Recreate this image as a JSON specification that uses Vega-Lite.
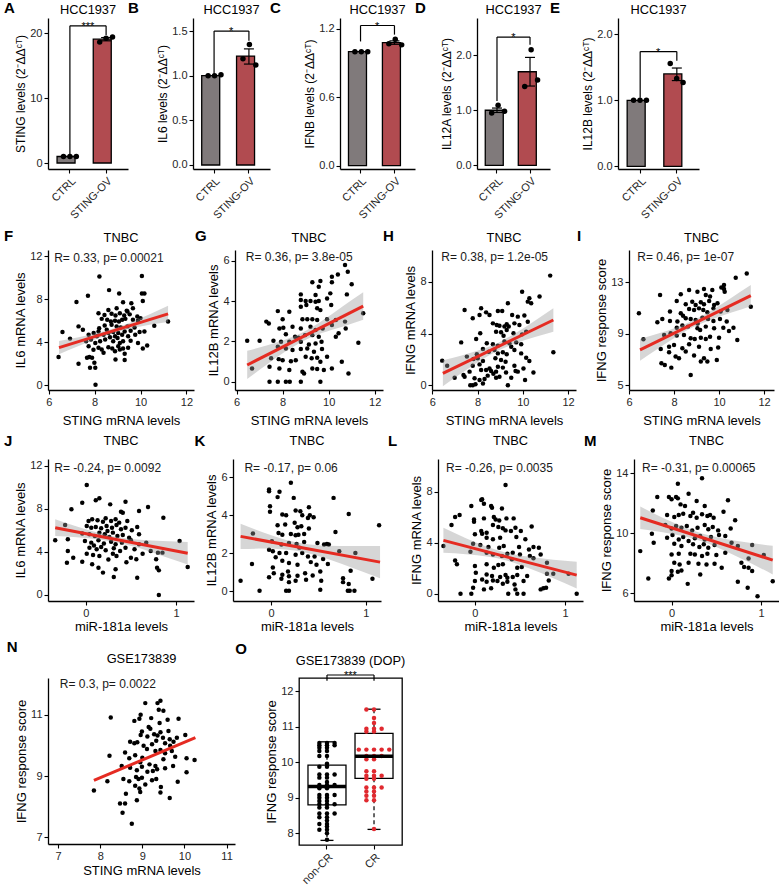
{
"$schema":"https://vega.github.io/schema/vega-lite/v6.json",
"background":"white",
"padding":{"left":3,"top":0,"right":0,"bottom":0},
"config":{
 "font":"Liberation Sans",
 "view":{"stroke":null},
 "axis":{"grid":false,"domainColor":"black","domainWidth":1.3,"tickColor":"black","tickWidth":1.1,"tickSize":4,"labelColor":"#262626","labelFontSize":11,"labelPadding":2,"titleFontSize":13,"titleFontWeight":"normal","titleColor":"black","labelFlush":false,"labelOverlap":false},
 "axisY":{"titlePadding":2},
 "axisX":{"titlePadding":7},
 "title":{"fontSize":12.8,"fontWeight":"normal","color":"black"},
 "mark":{"opacity":1}
},
"datasets":{
 "bars":[
  {"p":"A","g":"CTRL","m":1.0,"lo":null,"hi":null},
  {"p":"A","g":"STING-OV","m":19.05,"lo":18.8,"hi":19.3},
  {"p":"B","g":"CTRL","m":1.0,"lo":null,"hi":null},
  {"p":"B","g":"STING-OV","m":1.22,"lo":1.13,"hi":1.30},
  {"p":"C","g":"CTRL","m":1.0,"lo":null,"hi":null},
  {"p":"C","g":"STING-OV","m":1.08,"lo":1.065,"hi":1.095},
  {"p":"D","g":"CTRL","m":1.0,"lo":0.96,"hi":1.04},
  {"p":"D","g":"STING-OV","m":1.70,"lo":1.44,"hi":1.96},
  {"p":"E","g":"CTRL","m":1.0,"lo":null,"hi":null},
  {"p":"E","g":"STING-OV","m":1.40,"lo":1.30,"hi":1.49}
 ],
 "reps":[
  {"p":"A","g":"CTRL","r":1,"v":1.0},{"p":"A","g":"CTRL","r":2,"v":1.0},{"p":"A","g":"CTRL","r":3,"v":1.0},
  {"p":"A","g":"STING-OV","r":1,"v":18.6},{"p":"A","g":"STING-OV","r":2,"v":19.2},{"p":"A","g":"STING-OV","r":3,"v":19.4},
  {"p":"B","g":"CTRL","r":1,"v":1.0},{"p":"B","g":"CTRL","r":2,"v":1.0},{"p":"B","g":"CTRL","r":3,"v":1.01},
  {"p":"B","g":"STING-OV","r":1,"v":1.19},{"p":"B","g":"STING-OV","r":2,"v":1.35},{"p":"B","g":"STING-OV","r":3,"v":1.12},
  {"p":"C","g":"CTRL","r":1,"v":1.0},{"p":"C","g":"CTRL","r":2,"v":1.0},{"p":"C","g":"CTRL","r":3,"v":1.0},
  {"p":"C","g":"STING-OV","r":1,"v":1.07},{"p":"C","g":"STING-OV","r":2,"v":1.11},{"p":"C","g":"STING-OV","r":3,"v":1.06},
  {"p":"D","g":"CTRL","r":1,"v":0.95},{"p":"D","g":"CTRL","r":2,"v":1.09},{"p":"D","g":"CTRL","r":3,"v":0.98},
  {"p":"D","g":"STING-OV","r":1,"v":1.43},{"p":"D","g":"STING-OV","r":2,"v":2.10},{"p":"D","g":"STING-OV","r":3,"v":1.55},
  {"p":"E","g":"CTRL","r":1,"v":1.0},{"p":"E","g":"CTRL","r":2,"v":1.0},{"p":"E","g":"CTRL","r":3,"v":1.0},
  {"p":"E","g":"STING-OV","r":1,"v":1.56},{"p":"E","g":"STING-OV","r":2,"v":1.33},{"p":"E","g":"STING-OV","r":3,"v":1.27}
 ],
 "bands":[
  {"p":"F","x":6.45,"lo":2.88,"hi":4.12},{"p":"F","x":7.25,"lo":3.61,"hi":4.45},{"p":"F","x":8.05,"lo":4.28,"hi":4.84},{"p":"F","x":8.85,"lo":4.87,"hi":5.31},{"p":"F","x":9.65,"lo":5.32,"hi":5.92},{"p":"F","x":10.45,"lo":5.65,"hi":6.65},{"p":"F","x":11.2,"lo":5.9,"hi":7.4},
  {"p":"G","x":6.46,"lo":0.13,"hi":1.53},{"p":"G","x":7.3,"lo":0.84,"hi":1.80},{"p":"G","x":8.1,"lo":1.48,"hi":2.08},{"p":"G","x":8.9,"lo":2.02,"hi":2.46},{"p":"G","x":9.7,"lo":2.41,"hi":3.01},{"p":"G","x":10.6,"lo":2.73,"hi":3.73},{"p":"G","x":11.5,"lo":3.07,"hi":4.43},
  {"p":"H","x":6.47,"lo":-0.07,"hi":1.93},{"p":"H","x":7.3,"lo":0.95,"hi":2.31},{"p":"H","x":8.1,"lo":1.89,"hi":2.73},{"p":"H","x":8.9,"lo":2.68,"hi":3.28},{"p":"H","x":9.7,"lo":3.26,"hi":4.06},{"p":"H","x":10.5,"lo":3.71,"hi":4.95},{"p":"H","x":11.35,"lo":4.15,"hi":5.95},
  {"p":"I","x":6.49,"lo":6.91,"hi":8.59},{"p":"I","x":7.3,"lo":7.86,"hi":9.02},{"p":"I","x":8.1,"lo":8.77,"hi":9.49},{"p":"I","x":8.9,"lo":9.56,"hi":10.08},{"p":"I","x":9.7,"lo":10.14,"hi":10.86},{"p":"I","x":10.55,"lo":10.65,"hi":11.81},{"p":"I","x":11.41,"lo":11.15,"hi":12.79},
  {"p":"J","x":-0.34,"lo":5.48,"hi":7.04},{"p":"J","x":-0.1,"lo":5.37,"hi":6.37},{"p":"J","x":0.15,"lo":5.17,"hi":5.77},{"p":"J","x":0.35,"lo":4.88,"hi":5.40},{"p":"J","x":0.6,"lo":4.34,"hi":5.14},{"p":"J","x":0.85,"lo":3.63,"hi":5.03},{"p":"J","x":1.13,"lo":2.83,"hi":4.93},
  {"p":"K","x":-0.32,"lo":2.23,"hi":3.55},{"p":"K","x":-0.08,"lo":2.25,"hi":3.09},{"p":"K","x":0.15,"lo":2.2,"hi":2.72},{"p":"K","x":0.35,"lo":2.06,"hi":2.5},{"p":"K","x":0.6,"lo":1.7,"hi":2.4},{"p":"K","x":0.87,"lo":1.22,"hi":2.38},{"p":"K","x":1.15,"lo":0.70,"hi":2.38},
  {"p":"L","x":-0.35,"lo":3.2,"hi":5.16},{"p":"L","x":-0.1,"lo":3.1,"hi":4.34},{"p":"L","x":0.15,"lo":2.89,"hi":3.63},{"p":"L","x":0.35,"lo":2.6,"hi":3.2},{"p":"L","x":0.6,"lo":1.99,"hi":2.89},{"p":"L","x":0.87,"lo":1.22,"hi":2.66},{"p":"L","x":1.13,"lo":0.41,"hi":2.51},
  {"p":"M","x":-0.35,"lo":10.29,"hi":11.79},{"p":"M","x":-0.1,"lo":10.08,"hi":11.04},{"p":"M","x":0.15,"lo":9.79,"hi":10.39},{"p":"M","x":0.35,"lo":9.45,"hi":9.97},{"p":"M","x":0.6,"lo":8.83,"hi":9.63},{"p":"M","x":0.87,"lo":8.06,"hi":9.38},{"p":"M","x":1.13,"lo":7.27,"hi":9.17}
 ],
 "lines":[
  {"p":"F","x":6.45,"y":3.5},{"p":"F","x":11.2,"y":6.65},
  {"p":"G","x":6.46,"y":0.83},{"p":"G","x":11.5,"y":3.75},
  {"p":"H","x":6.47,"y":0.93},{"p":"H","x":11.35,"y":5.05},
  {"p":"I","x":6.49,"y":7.75},{"p":"I","x":11.41,"y":11.97},
  {"p":"J","x":-0.34,"y":6.26},{"p":"J","x":1.13,"y":3.88},
  {"p":"K","x":-0.32,"y":2.89},{"p":"K","x":1.15,"y":1.54},
  {"p":"L","x":-0.35,"y":4.18},{"p":"L","x":1.13,"y":1.46},
  {"p":"M","x":-0.35,"y":11.04},{"p":"M","x":1.13,"y":8.22},
  {"p":"N","x":7.85,"y":8.86},{"p":"N","x":10.26,"y":10.25}
 ],
 "F":[{"x":8.21,"y":10.12},{"x":10.06,"y":10.18},{"x":8.63,"y":8.86},{"x":7.71,"y":8.34},{"x":9.07,"y":8.55},{"x":10.06,"y":8.55},{"x":10.17,"y":8.55},{"x":7.21,"y":7.75},{"x":9.24,"y":7.72},{"x":9.6,"y":7.63},{"x":10.1,"y":7.85},{"x":8.6,"y":7.0},{"x":8.96,"y":7.17},{"x":9.43,"y":6.86},{"x":9.67,"y":7.17},{"x":8.17,"y":6.7},{"x":8.43,"y":6.55},{"x":8.74,"y":6.65},{"x":8.91,"y":6.5},{"x":9.1,"y":6.7},{"x":9.29,"y":6.5},{"x":9.53,"y":6.6},{"x":9.86,"y":6.4},{"x":10.0,"y":6.25},{"x":8.31,"y":6.18},{"x":8.89,"y":6.0},{"x":9.06,"y":5.94},{"x":9.2,"y":6.1},{"x":9.34,"y":6.18},{"x":9.67,"y":6.1},{"x":9.89,"y":6.0},{"x":11.2,"y":5.94},{"x":7.3,"y":5.48},{"x":7.49,"y":5.17},{"x":8.74,"y":5.63},{"x":8.96,"y":5.48},{"x":9.14,"y":5.38},{"x":9.43,"y":5.48},{"x":9.74,"y":5.38},{"x":10.6,"y":5.54},{"x":6.6,"y":4.95},{"x":8.17,"y":5.0},{"x":8.53,"y":5.17},{"x":8.81,"y":4.95},{"x":9.03,"y":4.86},{"x":9.31,"y":5.0},{"x":9.57,"y":5.08},{"x":9.96,"y":4.95},{"x":10.17,"y":5.0},{"x":7.74,"y":4.7},{"x":7.96,"y":4.86},{"x":8.1,"y":4.55},{"x":8.39,"y":4.7},{"x":8.67,"y":4.46},{"x":8.89,"y":4.55},{"x":9.2,"y":4.7},{"x":9.46,"y":4.55},{"x":9.77,"y":4.7},{"x":6.93,"y":4.34},{"x":7.63,"y":4.09},{"x":7.84,"y":4.25},{"x":8.03,"y":3.94},{"x":8.24,"y":4.09},{"x":8.46,"y":4.25},{"x":8.81,"y":4.09},{"x":9.1,"y":3.94},{"x":9.24,"y":4.09},{"x":9.57,"y":4.15},{"x":9.89,"y":3.94},{"x":7.74,"y":3.63},{"x":8.17,"y":3.48},{"x":8.6,"y":3.54},{"x":8.77,"y":3.42},{"x":9.03,"y":3.63},{"x":9.1,"y":3.32},{"x":9.24,"y":3.42},{"x":10.29,"y":3.69},{"x":10.1,"y":3.42},{"x":8.31,"y":3.32},{"x":8.39,"y":3.02},{"x":8.89,"y":3.17},{"x":9.31,"y":2.92},{"x":6.43,"y":2.62},{"x":7.67,"y":2.55},{"x":7.77,"y":2.62},{"x":7.89,"y":2.55},{"x":8.91,"y":2.4},{"x":9.31,"y":2.34},{"x":7.3,"y":2.0},{"x":7.99,"y":2.09},{"x":7.8,"y":1.63},{"x":8.03,"y":1.63},{"x":8.04,"y":0.03},{"x":8.71,"y":5.94},{"x":8.44,"y":5.57},{"x":9.46,"y":3.48},{"x":9.0,"y":4.4},{"x":8.6,"y":4.86},{"x":7.95,"y":3.3},{"x":8.55,"y":6.1},{"x":9.4,"y":6.95},{"x":8.2,"y":5.3}],
 "G":[{"x":10.71,"y":5.79},{"x":10.83,"y":5.45},{"x":10.4,"y":5.32},{"x":10.14,"y":5.2},{"x":9.64,"y":4.99},{"x":9.29,"y":4.93},{"x":11.0,"y":4.83},{"x":10.14,"y":4.93},{"x":9.57,"y":4.71},{"x":8.79,"y":4.33},{"x":9.43,"y":4.3},{"x":10.07,"y":4.38},{"x":10.79,"y":4.33},{"x":8.79,"y":4.05},{"x":9.0,"y":4.0},{"x":9.21,"y":4.0},{"x":9.43,"y":3.97},{"x":9.57,"y":4.0},{"x":9.93,"y":4.13},{"x":7.79,"y":3.5},{"x":8.79,"y":3.72},{"x":9.03,"y":3.8},{"x":9.5,"y":3.64},{"x":9.64,"y":3.55},{"x":10.11,"y":3.8},{"x":11.5,"y":3.39},{"x":7.29,"y":2.98},{"x":7.4,"y":2.89},{"x":8.0,"y":3.1},{"x":8.29,"y":3.47},{"x":8.86,"y":3.1},{"x":9.07,"y":3.1},{"x":9.29,"y":3.1},{"x":9.5,"y":3.06},{"x":9.93,"y":3.1},{"x":10.31,"y":3.06},{"x":10.71,"y":2.98},{"x":7.86,"y":2.64},{"x":8.03,"y":2.68},{"x":8.43,"y":2.73},{"x":8.79,"y":2.64},{"x":9.21,"y":2.73},{"x":9.43,"y":2.56},{"x":9.74,"y":2.64},{"x":10.14,"y":2.81},{"x":10.74,"y":2.64},{"x":8.14,"y":2.35},{"x":8.54,"y":2.23},{"x":8.69,"y":2.18},{"x":8.97,"y":2.31},{"x":9.29,"y":2.31},{"x":9.57,"y":2.23},{"x":10.43,"y":2.4},{"x":10.31,"y":2.23},{"x":6.46,"y":2.03},{"x":7.0,"y":2.03},{"x":7.6,"y":2.03},{"x":7.93,"y":1.98},{"x":8.29,"y":1.98},{"x":8.79,"y":1.98},{"x":9.14,"y":1.85},{"x":9.43,"y":1.9},{"x":9.69,"y":1.98},{"x":7.79,"y":1.74},{"x":8.14,"y":1.65},{"x":8.43,"y":1.57},{"x":8.79,"y":1.62},{"x":9.07,"y":1.65},{"x":9.36,"y":1.49},{"x":9.71,"y":1.62},{"x":11.29,"y":1.93},{"x":7.5,"y":1.16},{"x":7.83,"y":1.12},{"x":8.0,"y":1.07},{"x":8.36,"y":1.02},{"x":8.57,"y":1.07},{"x":9.0,"y":1.24},{"x":9.26,"y":1.16},{"x":9.5,"y":1.19},{"x":9.93,"y":1.24},{"x":9.64,"y":0.99},{"x":10.57,"y":0.99},{"x":6.67,"y":0.66},{"x":7.43,"y":0.74},{"x":7.86,"y":0.66},{"x":8.29,"y":0.58},{"x":8.86,"y":0.5},{"x":8.93,"y":0.41},{"x":9.29,"y":0.66},{"x":9.5,"y":0.63},{"x":9.79,"y":0.58},{"x":10.14,"y":0.66},{"x":10.86,"y":0.41},{"x":7.43,"y":0},{"x":7.79,"y":0},{"x":8.14,"y":0},{"x":8.31,"y":0},{"x":8.79,"y":0},{"x":9.64,"y":0}],
 "H":[{"x":6.44,"y":1.91},{"x":6.66,"y":1.52},{"x":6.99,"y":0.59},{"x":7.28,"y":3.32},{"x":7.38,"y":0.8},{"x":7.43,"y":5.82},{"x":11.21,"y":8.48},{"x":9.97,"y":7.24},{"x":10.74,"y":6.86},{"x":10.29,"y":6.73},{"x":10.22,"y":6.47},{"x":10.37,"y":6.34},{"x":9.34,"y":6.34},{"x":8.16,"y":5.95},{"x":8.38,"y":5.64},{"x":8.9,"y":5.75},{"x":9.09,"y":5.75},{"x":7.79,"y":5.18},{"x":8.09,"y":5.44},{"x":8.53,"y":5.44},{"x":9.53,"y":5.44},{"x":9.78,"y":5.31},{"x":10.07,"y":5.39},{"x":8.68,"y":4.79},{"x":8.85,"y":4.66},{"x":8.97,"y":4.61},{"x":9.19,"y":4.54},{"x":9.29,"y":4.72},{"x":9.38,"y":4.54},{"x":9.63,"y":4.79},{"x":9.85,"y":4.66},{"x":10.22,"y":4.92},{"x":8.12,"y":4.02},{"x":8.82,"y":4.15},{"x":9.04,"y":4.1},{"x":9.29,"y":4.28},{"x":9.59,"y":4.02},{"x":9.97,"y":3.94},{"x":10.15,"y":4.15},{"x":9.15,"y":3.84},{"x":7.94,"y":3.58},{"x":8.41,"y":3.25},{"x":8.68,"y":3.17},{"x":8.9,"y":3.07},{"x":9.19,"y":3.38},{"x":9.41,"y":3.25},{"x":9.71,"y":3.32},{"x":9.93,"y":3.17},{"x":9.49,"y":2.99},{"x":8.24,"y":2.81},{"x":8.5,"y":2.6},{"x":8.75,"y":2.73},{"x":8.9,"y":2.47},{"x":9.12,"y":2.55},{"x":9.29,"y":2.4},{"x":9.63,"y":2.73},{"x":9.93,"y":2.47},{"x":11.35,"y":2.55},{"x":7.97,"y":2.4},{"x":7.53,"y":2.22},{"x":7.82,"y":2.04},{"x":8.01,"y":2.09},{"x":8.24,"y":1.88},{"x":8.79,"y":2.09},{"x":9.04,"y":1.96},{"x":9.24,"y":1.83},{"x":10.15,"y":2.14},{"x":10.29,"y":1.88},{"x":7.79,"y":1.52},{"x":8.09,"y":1.62},{"x":8.53,"y":1.31},{"x":8.9,"y":1.44},{"x":9.12,"y":1.37},{"x":9.63,"y":1.52},{"x":10.03,"y":1.31},{"x":7.65,"y":1.06},{"x":8.16,"y":1.19},{"x":8.38,"y":1.19},{"x":8.6,"y":1.11},{"x":8.82,"y":1.06},{"x":9.26,"y":1.0},{"x":9.68,"y":1.11},{"x":9.78,"y":1.06},{"x":10.47,"y":1.0},{"x":7.43,"y":0.67},{"x":7.87,"y":0.54},{"x":8.09,"y":0.41},{"x":8.31,"y":0.49},{"x":8.82,"y":0.59},{"x":8.97,"y":0.67},{"x":9.49,"y":0.59},{"x":10.1,"y":0.41},{"x":7.68,"y":0},{"x":7.79,"y":0},{"x":7.91,"y":0.08},{"x":8.24,"y":0.15},{"x":9.34,"y":0},{"x":8.7,"y":0.9},{"x":8.45,"y":0.75}],
 "I":[{"x":6.44,"y":10.6},{"x":6.64,"y":8.58},{"x":7.38,"y":12.02},{"x":7.26,"y":9.9},{"x":7.41,"y":7.82},{"x":7.44,"y":6.71},{"x":7.59,"y":6.58},{"x":11.23,"y":13.7},{"x":10.74,"y":13.37},{"x":10.22,"y":12.8},{"x":10.22,"y":12.49},{"x":10.25,"y":12.28},{"x":9.7,"y":12.41},{"x":9.33,"y":12.49},{"x":9.04,"y":12.28},{"x":8.67,"y":12.41},{"x":8.3,"y":12.07},{"x":9.41,"y":12.02},{"x":8.12,"y":11.55},{"x":8.52,"y":11.3},{"x":8.81,"y":11.5},{"x":8.96,"y":11.24},{"x":9.19,"y":11.45},{"x":9.33,"y":11.3},{"x":9.56,"y":11.55},{"x":9.78,"y":11.24},{"x":9.93,"y":11.37},{"x":11.41,"y":11.11},{"x":7.82,"y":10.73},{"x":8.3,"y":10.6},{"x":8.67,"y":10.93},{"x":8.89,"y":10.86},{"x":9.11,"y":10.98},{"x":9.3,"y":10.86},{"x":9.48,"y":10.67},{"x":9.75,"y":10.98},{"x":10.07,"y":10.73},{"x":10.37,"y":10.86},{"x":7.48,"y":10.16},{"x":7.82,"y":10.0},{"x":8.15,"y":9.95},{"x":8.52,"y":10.21},{"x":8.74,"y":10.16},{"x":8.96,"y":10.08},{"x":9.26,"y":10.26},{"x":9.51,"y":10.16},{"x":9.75,"y":10.0},{"x":10.04,"y":10.16},{"x":10.34,"y":9.95},{"x":8.12,"y":9.48},{"x":8.37,"y":9.64},{"x":8.62,"y":9.56},{"x":9.04,"y":9.43},{"x":9.16,"y":9.3},{"x":9.41,"y":9.56},{"x":9.78,"y":9.43},{"x":10.19,"y":9.48},{"x":10.44,"y":9.22},{"x":10.64,"y":9.48},{"x":7.56,"y":8.91},{"x":7.85,"y":9.04},{"x":8.12,"y":8.86},{"x":8.44,"y":8.91},{"x":8.74,"y":8.65},{"x":8.92,"y":8.6},{"x":9.19,"y":8.7},{"x":9.41,"y":8.6},{"x":9.6,"y":8.78},{"x":10.0,"y":8.7},{"x":10.81,"y":8.52},{"x":7.78,"y":8.0},{"x":8.0,"y":8.13},{"x":8.37,"y":7.88},{"x":8.67,"y":8.19},{"x":9.11,"y":8.0},{"x":9.63,"y":7.82},{"x":9.96,"y":7.93},{"x":7.78,"y":7.56},{"x":8.07,"y":7.23},{"x":8.22,"y":7.1},{"x":8.52,"y":7.62},{"x":8.89,"y":7.31},{"x":9.33,"y":7.1},{"x":9.9,"y":6.97},{"x":7.88,"y":6.37},{"x":9.19,"y":6.84},{"x":9.48,"y":6.84},{"x":8.74,"y":5.8},{"x":9.6,"y":11.9},{"x":10.1,"y":12.6},{"x":9.05,"y":9.8},{"x":8.4,"y":10.4}],
 "J":[{"x":-0.34,"y":5.09},{"x":-0.23,"y":6.51},{"x":-0.2,"y":5.18},{"x":-0.2,"y":4.09},{"x":-0.21,"y":3.0},{"x":-0.16,"y":7.97},{"x":-0.14,"y":3.47},{"x":-0.04,"y":8.59},{"x":0.01,"y":10.23},{"x":0.11,"y":8.81},{"x":0.15,"y":8.99},{"x":0.27,"y":8.43},{"x":0.44,"y":8.68},{"x":0.39,"y":7.75},{"x":0.41,"y":7.66},{"x":0.59,"y":7.81},{"x":0.69,"y":8.19},{"x":0.86,"y":7.19},{"x":0.03,"y":6.88},{"x":0.07,"y":7.04},{"x":0.13,"y":6.95},{"x":0.19,"y":6.82},{"x":0.22,"y":7.13},{"x":0.28,"y":6.88},{"x":0.33,"y":7.04},{"x":0.37,"y":6.73},{"x":0.46,"y":6.88},{"x":0.01,"y":6.42},{"x":0.06,"y":6.26},{"x":0.11,"y":6.33},{"x":0.17,"y":6.2},{"x":0.23,"y":6.42},{"x":0.29,"y":6.26},{"x":0.34,"y":6.51},{"x":0.39,"y":6.11},{"x":0.44,"y":6.26},{"x":0.51,"y":6.02},{"x":0.57,"y":6.33},{"x":-0.04,"y":5.71},{"x":0.04,"y":5.64},{"x":0.1,"y":5.49},{"x":0.15,"y":5.8},{"x":0.21,"y":5.64},{"x":0.26,"y":5.4},{"x":0.3,"y":5.8},{"x":0.35,"y":5.49},{"x":0.41,"y":5.58},{"x":0.48,"y":5.33},{"x":0.59,"y":5.64},{"x":-0.01,"y":5.02},{"x":0.06,"y":4.87},{"x":0.14,"y":5.09},{"x":0.2,"y":4.78},{"x":0.28,"y":4.96},{"x":0.33,"y":4.71},{"x":0.4,"y":4.87},{"x":0.5,"y":5.09},{"x":0.59,"y":4.71},{"x":0.67,"y":4.87},{"x":1.04,"y":5.02},{"x":0.04,"y":4.4},{"x":0.12,"y":4.25},{"x":0.17,"y":4.47},{"x":0.22,"y":4.16},{"x":0.31,"y":4.34},{"x":0.38,"y":4.09},{"x":0.44,"y":4.4},{"x":0.54,"y":4.25},{"x":0.72,"y":4.09},{"x":0.01,"y":3.84},{"x":0.08,"y":3.72},{"x":0.15,"y":3.63},{"x":0.3,"y":3.84},{"x":0.34,"y":3.63},{"x":0.5,"y":3.47},{"x":0.56,"y":3.32},{"x":0.63,"y":3.84},{"x":0.8,"y":3.94},{"x":0.85,"y":3.94},{"x":0.78,"y":3.32},{"x":-0.04,"y":3.1},{"x":0.07,"y":2.85},{"x":0.79,"y":2.54},{"x":1.13,"y":2.6},{"x":0.81,"y":2.29},{"x":0.14,"y":2.54},{"x":0.19,"y":2.08},{"x":0.33,"y":2.39},{"x":0.57,"y":1.61},{"x":0.31,"y":1.67},{"x":0.81,"y":0},{"x":0.25,"y":3.3},{"x":0.45,"y":3.05},{"x":0.09,"y":4.6},{"x":0.24,"y":5.95}],
 "K":[{"x":-0.32,"y":0.56},{"x":-0.2,"y":1.44},{"x":-0.19,"y":3.04},{"x":-0.12,"y":0.04},{"x":0.21,"y":5.7},{"x":-0.02,"y":5.35},{"x":-0.02,"y":5.26},{"x":0.09,"y":5.23},{"x":0.07,"y":4.95},{"x":0.4,"y":4.42},{"x":0.24,"y":4.91},{"x":0.66,"y":4.91},{"x":-0.01,"y":4.47},{"x":-0.01,"y":4.18},{"x":0.82,"y":4.07},{"x":1.14,"y":3.47},{"x":0.12,"y":4.04},{"x":0.16,"y":4.0},{"x":0.26,"y":4.25},{"x":0.31,"y":4.21},{"x":0.33,"y":4.0},{"x":0.39,"y":3.86},{"x":0.41,"y":4.0},{"x":0.45,"y":3.89},{"x":0.07,"y":3.47},{"x":0.15,"y":3.51},{"x":0.25,"y":3.6},{"x":0.28,"y":3.37},{"x":0.32,"y":3.42},{"x":0.4,"y":3.3},{"x":0.08,"y":3.07},{"x":0.12,"y":2.98},{"x":0.21,"y":3.02},{"x":0.26,"y":2.95},{"x":0.29,"y":2.98},{"x":0.35,"y":3.02},{"x":0.68,"y":3.12},{"x":0.01,"y":2.63},{"x":0.11,"y":2.46},{"x":0.19,"y":2.54},{"x":0.27,"y":2.49},{"x":0.35,"y":2.6},{"x":0.49,"y":2.54},{"x":0.56,"y":2.46},{"x":0.59,"y":2.49},{"x":0.61,"y":2.46},{"x":0.72,"y":2.11},{"x":-0.02,"y":2.19},{"x":0.02,"y":2.11},{"x":0.09,"y":2.02},{"x":0.16,"y":2.02},{"x":0.26,"y":1.93},{"x":0.33,"y":2.02},{"x":0.39,"y":1.84},{"x":0.46,"y":1.84},{"x":0.89,"y":2.02},{"x":0.12,"y":1.61},{"x":0.19,"y":1.49},{"x":0.28,"y":1.4},{"x":0.42,"y":1.54},{"x":0.48,"y":1.4},{"x":0.6,"y":1.44},{"x":0.84,"y":1.09},{"x":0.02,"y":1.26},{"x":0.03,"y":0.96},{"x":0.12,"y":0.88},{"x":0.18,"y":1.05},{"x":0.36,"y":0.96},{"x":0.44,"y":0.84},{"x":0.52,"y":1.05},{"x":0.11,"y":0.67},{"x":0.19,"y":0.49},{"x":0.26,"y":0.56},{"x":0.37,"y":0.61},{"x":0.53,"y":0.56},{"x":0.76,"y":0.49},{"x":0.82,"y":0.39},{"x":1.07,"y":0.67},{"x":0.16,"y":0.04},{"x":0.19,"y":0.04},{"x":0.52,"y":0.09},{"x":0.81,"y":0.04},{"x":0.83,"y":0.04},{"x":0.88,"y":0.04},{"x":-0.02,"y":0.75},{"x":0.19,"y":0.8},{"x":0.28,"y":0.82},{"x":0.76,"y":0.7},{"x":0.55,"y":1.7},{"x":0.3,"y":2.3},{"x":0.05,"y":1.8}],
 "L":[{"x":-0.35,"y":3.73},{"x":-0.26,"y":5.38},{"x":-0.22,"y":6.0},{"x":-0.17,"y":6.16},{"x":-0.22,"y":2.61},{"x":-0.2,"y":2.3},{"x":-0.16,"y":0},{"x":-0.04,"y":6.87},{"x":0.07,"y":7.34},{"x":0.34,"y":8.51},{"x":0.08,"y":7.39},{"x":0.1,"y":7.05},{"x":0.18,"y":6.87},{"x":0.19,"y":6.74},{"x":0.3,"y":6.68},{"x":-0.01,"y":5.82},{"x":0.1,"y":5.9},{"x":0.21,"y":6.0},{"x":0.23,"y":5.82},{"x":0.27,"y":5.74},{"x":0.35,"y":5.9},{"x":0.43,"y":5.9},{"x":-0.01,"y":5.64},{"x":0.2,"y":5.38},{"x":0.26,"y":5.22},{"x":0.31,"y":5.12},{"x":0.34,"y":4.96},{"x":0.4,"y":4.91},{"x":0.45,"y":5.17},{"x":0.51,"y":4.91},{"x":0.63,"y":5.27},{"x":0.07,"y":4.91},{"x":0.08,"y":4.7},{"x":0.13,"y":4.78},{"x":0.0,"y":4.65},{"x":0.13,"y":4.39},{"x":0.2,"y":4.26},{"x":0.28,"y":4.39},{"x":0.46,"y":4.44},{"x":0.56,"y":4.26},{"x":-0.02,"y":3.92},{"x":0.06,"y":3.81},{"x":0.15,"y":3.66},{"x":0.27,"y":3.6},{"x":0.32,"y":3.73},{"x":0.49,"y":3.66},{"x":0.65,"y":3.66},{"x":0.71,"y":3.6},{"x":0.6,"y":3.47},{"x":-0.05,"y":3.29},{"x":0.13,"y":3.21},{"x":0.2,"y":3.08},{"x":0.3,"y":2.95},{"x":0.36,"y":3.13},{"x":0.42,"y":3.21},{"x":0.5,"y":3.08},{"x":0.61,"y":2.95},{"x":0.65,"y":2.77},{"x":0.41,"y":2.69},{"x":0.73,"y":3.08},{"x":0.0,"y":2.17},{"x":0.13,"y":2.3},{"x":0.21,"y":2.04},{"x":0.26,"y":2.25},{"x":0.31,"y":2.3},{"x":0.47,"y":2.04},{"x":0.52,"y":2.09},{"x":0.8,"y":2.43},{"x":0.8,"y":1.57},{"x":0.87,"y":1.57},{"x":1.04,"y":1.57},{"x":0.01,"y":1.64},{"x":0.13,"y":1.51},{"x":0.19,"y":1.38},{"x":0.28,"y":1.31},{"x":0.34,"y":1.46},{"x":0.36,"y":1.25},{"x":0.42,"y":1.31},{"x":0.47,"y":1.46},{"x":0.58,"y":1.38},{"x":0.82,"y":1.04},{"x":0.0,"y":0.99},{"x":0.08,"y":1.12},{"x":0.13,"y":0.94},{"x":0.2,"y":1.04},{"x":0.25,"y":0.99},{"x":0.31,"y":0.78},{"x":0.36,"y":0.94},{"x":0.44,"y":0.73},{"x":0.54,"y":0.99},{"x":-0.02,"y":0.47},{"x":0.1,"y":0.34},{"x":0.18,"y":0.42},{"x":0.45,"y":0.34},{"x":0.73,"y":0.34},{"x":0.76,"y":0.42},{"x":0.79,"y":0.47},{"x":-0.04,"y":0},{"x":0.37,"y":0},{"x":0.47,"y":0},{"x":0.54,"y":0},{"x":1.13,"y":0}],
 "M":[{"x":-0.35,"y":8.82},{"x":-0.26,"y":7.0},{"x":-0.22,"y":9.98},{"x":-0.2,"y":9.38},{"x":-0.21,"y":11.53},{"x":-0.16,"y":12.42},{"x":-0.03,"y":7.0},{"x":0.0,"y":7.22},{"x":0.05,"y":12.42},{"x":0.07,"y":13.31},{"x":0.34,"y":13.67},{"x":-0.03,"y":12.42},{"x":0.0,"y":12.27},{"x":0.07,"y":12.33},{"x":0.19,"y":12.64},{"x":0.1,"y":11.93},{"x":0.15,"y":11.82},{"x":0.28,"y":12.16},{"x":0.37,"y":11.82},{"x":0.63,"y":12.2},{"x":-0.05,"y":11.22},{"x":0.03,"y":11.09},{"x":0.08,"y":11.22},{"x":0.13,"y":11.31},{"x":0.21,"y":11.16},{"x":0.24,"y":11.38},{"x":0.28,"y":11.04},{"x":0.34,"y":11.27},{"x":0.4,"y":11.16},{"x":0.43,"y":11.22},{"x":0.47,"y":11.04},{"x":0.58,"y":11.44},{"x":0.71,"y":10.87},{"x":-0.07,"y":10.56},{"x":0.0,"y":10.33},{"x":0.05,"y":10.49},{"x":0.11,"y":10.38},{"x":0.17,"y":10.49},{"x":0.23,"y":10.2},{"x":0.29,"y":10.38},{"x":0.37,"y":10.56},{"x":0.41,"y":10.27},{"x":0.46,"y":10.42},{"x":0.52,"y":10.2},{"x":0.66,"y":10.33},{"x":-0.05,"y":9.71},{"x":0.01,"y":9.89},{"x":0.08,"y":9.6},{"x":0.13,"y":9.76},{"x":0.19,"y":9.49},{"x":0.26,"y":9.67},{"x":0.32,"y":9.82},{"x":0.37,"y":9.6},{"x":0.44,"y":9.76},{"x":0.53,"y":9.89},{"x":0.6,"y":9.82},{"x":0.03,"y":9.31},{"x":0.11,"y":9.16},{"x":0.24,"y":9.27},{"x":0.31,"y":9.09},{"x":0.36,"y":9.27},{"x":0.41,"y":9.04},{"x":0.48,"y":9.22},{"x":0.67,"y":9.38},{"x":0.74,"y":9.16},{"x":0.9,"y":9.22},{"x":0.0,"y":8.6},{"x":0.08,"y":8.64},{"x":0.21,"y":8.64},{"x":0.26,"y":8.6},{"x":0.34,"y":8.49},{"x":0.4,"y":8.64},{"x":0.5,"y":8.56},{"x":0.6,"y":8.71},{"x":1.03,"y":8.56},{"x":0.03,"y":8.04},{"x":0.09,"y":7.93},{"x":0.19,"y":8.04},{"x":0.3,"y":7.98},{"x":0.39,"y":7.93},{"x":0.48,"y":7.98},{"x":0.78,"y":8.04},{"x":0.86,"y":8.33},{"x":0.0,"y":7.49},{"x":0.07,"y":7.44},{"x":0.11,"y":7.53},{"x":0.32,"y":7.27},{"x":0.56,"y":7.71},{"x":0.81,"y":7.76},{"x":0.86,"y":7.71},{"x":0.9,"y":7.49},{"x":0.18,"y":6.64},{"x":0.74,"y":6.78},{"x":1.13,"y":6.82},{"x":0.85,"y":6.38},{"x":0.96,"y":5.82}],
 "N":[{"x":9.07,"y":11.38},{"x":9.43,"y":11.46},{"x":9.36,"y":11.38},{"x":9.39,"y":11.16},{"x":9.5,"y":11.13},{"x":8.25,"y":10.91},{"x":8.96,"y":11.0},{"x":8.93,"y":10.87},{"x":9.21,"y":10.89},{"x":9.41,"y":10.73},{"x":9.6,"y":10.84},{"x":9.86,"y":10.87},{"x":8.81,"y":10.8},{"x":8.99,"y":10.45},{"x":8.96,"y":10.34},{"x":9.19,"y":10.54},{"x":9.28,"y":10.36},{"x":9.43,"y":10.43},{"x":9.62,"y":10.47},{"x":10.02,"y":10.34},{"x":9.12,"y":10.29},{"x":9.36,"y":10.32},{"x":9.49,"y":10.25},{"x":9.82,"y":10.25},{"x":8.71,"y":10.12},{"x":8.81,"y":10.07},{"x":8.88,"y":10.1},{"x":9.03,"y":9.99},{"x":9.23,"y":10.04},{"x":9.33,"y":10.15},{"x":9.54,"y":10.07},{"x":9.66,"y":9.99},{"x":9.74,"y":10.12},{"x":8.22,"y":9.66},{"x":8.59,"y":9.77},{"x":8.83,"y":9.68},{"x":9.11,"y":9.88},{"x":9.31,"y":9.82},{"x":9.43,"y":9.85},{"x":9.54,"y":9.74},{"x":9.7,"y":9.82},{"x":9.78,"y":9.63},{"x":8.69,"y":9.58},{"x":10.05,"y":9.58},{"x":10.24,"y":9.52},{"x":8.51,"y":9.33},{"x":8.71,"y":9.27},{"x":8.87,"y":9.19},{"x":8.99,"y":9.3},{"x":9.17,"y":9.38},{"x":9.31,"y":9.33},{"x":9.35,"y":9.22},{"x":9.54,"y":9.25},{"x":9.73,"y":9.33},{"x":9.12,"y":9.14},{"x":9.25,"y":9.16},{"x":8.55,"y":8.9},{"x":8.85,"y":8.97},{"x":8.91,"y":8.9},{"x":8.99,"y":8.94},{"x":9.23,"y":8.86},{"x":9.33,"y":8.9},{"x":10.05,"y":9.12},{"x":8.17,"y":8.83},{"x":8.69,"y":8.83},{"x":8.83,"y":8.68},{"x":8.93,"y":8.59},{"x":9.07,"y":8.72},{"x":8.95,"y":8.48},{"x":9.44,"y":8.64},{"x":9.84,"y":8.81},{"x":9.43,"y":8.46},{"x":9.65,"y":8.28},{"x":8.87,"y":8.21},{"x":8.61,"y":8.42},{"x":8.47,"y":8.1},{"x":8.59,"y":8.1},{"x":7.85,"y":8.53},{"x":8.53,"y":7.8},{"x":8.75,"y":7.44},{"x":9.15,"y":10.6},{"x":9.5,"y":9.55},{"x":9.0,"y":9.6},{"x":9.65,"y":10.2},{"x":8.95,"y":9.45}],
 "obox":[{"g":"non-CR","lo":7.8,"q1":8.8,"med":9.32,"q3":9.92,"hi":10.58},{"g":"CR","lo":8.11,"q1":9.55,"med":10.17,"q3":10.82,"hi":11.5}],
 "odots":[
  {"g":"non-CR","v":10.55},{"g":"non-CR","v":10.55},{"g":"non-CR","v":10.55},{"g":"non-CR","v":10.48},{"g":"non-CR","v":10.48},{"g":"non-CR","v":10.48},{"g":"non-CR","v":10.41},{"g":"non-CR","v":10.41},{"g":"non-CR","v":10.32},{"g":"non-CR","v":10.32},{"g":"non-CR","v":10.18},{"g":"non-CR","v":10.18},{"g":"non-CR","v":9.96},{"g":"non-CR","v":9.88},{"g":"non-CR","v":9.88},{"g":"non-CR","v":9.66},{"g":"non-CR","v":9.66},{"g":"non-CR","v":9.66},{"g":"non-CR","v":9.57},{"g":"non-CR","v":9.57},{"g":"non-CR","v":9.45},{"g":"non-CR","v":9.36},{"g":"non-CR","v":9.36},{"g":"non-CR","v":9.36},{"g":"non-CR","v":9.27},{"g":"non-CR","v":9.27},{"g":"non-CR","v":9.08},{"g":"non-CR","v":9.08},{"g":"non-CR","v":9.08},{"g":"non-CR","v":9.0},{"g":"non-CR","v":9.0},{"g":"non-CR","v":8.91},{"g":"non-CR","v":8.91},{"g":"non-CR","v":8.82},{"g":"non-CR","v":8.82},{"g":"non-CR","v":8.82},{"g":"non-CR","v":8.73},{"g":"non-CR","v":8.73},{"g":"non-CR","v":8.56},{"g":"non-CR","v":8.56},{"g":"non-CR","v":8.56},{"g":"non-CR","v":8.45},{"g":"non-CR","v":8.45},{"g":"non-CR","v":8.36},{"g":"non-CR","v":8.26},{"g":"non-CR","v":8.26},{"g":"non-CR","v":8.19},{"g":"non-CR","v":8.1},{"g":"non-CR","v":8.1},{"g":"non-CR","v":8.0},{"g":"non-CR","v":7.82},
  {"g":"CR","v":11.49},{"g":"CR","v":11.49},{"g":"CR","v":11.25},{"g":"CR","v":11.11},{"g":"CR","v":10.95},{"g":"CR","v":10.95},{"g":"CR","v":10.95},{"g":"CR","v":10.87},{"g":"CR","v":10.87},{"g":"CR","v":10.36},{"g":"CR","v":10.36},{"g":"CR","v":10.36},{"g":"CR","v":10.36},{"g":"CR","v":10.36},{"g":"CR","v":10.18},{"g":"CR","v":10.18},{"g":"CR","v":10.18},{"g":"CR","v":10.09},{"g":"CR","v":10.09},{"g":"CR","v":9.75},{"g":"CR","v":9.75},{"g":"CR","v":9.62},{"g":"CR","v":9.62},{"g":"CR","v":9.62},{"g":"CR","v":9.54},{"g":"CR","v":9.54},{"g":"CR","v":9.29},{"g":"CR","v":9.29},{"g":"CR","v":9.29},{"g":"CR","v":9.18},{"g":"CR","v":9.18},{"g":"CR","v":9.06},{"g":"CR","v":9.06},{"g":"CR","v":8.93},{"g":"CR","v":8.93},{"g":"CR","v":8.12}
 ]
},
"vconcat":[
 {"hconcat":[
  {"title":{"text":"A","orient":"top","anchor":"start","frame":"bounds","baseline":"top","offset":-11.5,"dx":-10.8,"fontSize":15,"fontWeight":"bold"},
   "vconcat":[{"title":{"text":"HCC1937","frame":"group","anchor":"middle","offset":1},"width":80,"height":151,
    "layer":[
     {"data":{"name":"bars"},"transform":[{"filter":"datum.p==='A'"}],"mark":{"type":"bar","stroke":"black","strokeWidth":1.3,"width":{"band":1}},
      "encoding":{"x":{"field":"g","type":"nominal","sort":["CTRL","STING-OV"],"scale":{"paddingInner":0.29,"paddingOuter":0.25},"axis":{"title":null,"labelAngle":-45}},
       "y":{"field":"m","type":"quantitative","scale":{"domain":[-0.92,22.31],"nice":false,"zero":false},"axis":{"values":[0,5,10,15,20],"title":"STING levels (2⁻ΔΔᶜᵀ)","titleFontSize":12}},
       "y2":{"datum":0},
       "color":{"field":"g","type":"nominal","scale":{"domain":["CTRL","STING-OV"],"range":["#807a7b","#b14b50"]},"legend":null}}},
     {"data":{"name":"bars"},"transform":[{"filter":"datum.p==='A'"}],"mark":{"type":"rule","color":"black","strokeWidth":1.2},"encoding":{"x":{"field":"g","type":"nominal"},"y":{"field":"lo","type":"quantitative"},"y2":{"field":"hi"}}},
     {"data":{"name":"bars"},"transform":[{"filter":"datum.p==='A'"}],"mark":{"type":"tick","color":"black","thickness":1.2,"size":10},"encoding":{"x":{"field":"g","type":"nominal"},"y":{"field":"hi","type":"quantitative"}}},
     {"data":{"name":"bars"},"transform":[{"filter":"datum.p==='A'"}],"mark":{"type":"tick","color":"black","thickness":1.2,"size":10},"encoding":{"x":{"field":"g","type":"nominal"},"y":{"field":"lo","type":"quantitative"}}},
     {"data":{"name":"reps"},"transform":[{"filter":"datum.p==='A'"}],"mark":{"type":"circle","color":"black","size":30,"opacity":1},"encoding":{"x":{"field":"g","type":"nominal"},"xOffset":{"field":"r","type":"nominal","scale":{"paddingOuter":1.75}},"y":{"field":"v","type":"quantitative"}}},
     {"data":{"values":[{}]},"mark":{"type":"rule","color":"black","strokeWidth":1.2},"encoding":{"x":{"datum":"CTRL"},"x2":{"datum":"STING-OV"},"y":{"datum":21.1}}},
     {"data":{"values":[{}]},"mark":{"type":"rule","color":"black","strokeWidth":1.2},"encoding":{"x":{"datum":"CTRL"},"y":{"datum":21.1},"y2":{"datum":1.4}}},
     {"data":{"values":[{}]},"mark":{"type":"rule","color":"black","strokeWidth":1.2},"encoding":{"x":{"datum":"STING-OV"},"y":{"datum":21.1},"y2":{"datum":19.7}}},
     {"data":{"values":[{}]},"mark":{"type":"text","fontSize":11,"baseline":"bottom","dx":18,"dy":6,"color":"black"},"encoding":{"x":{"datum":"CTRL"},"y":{"datum":21.1},"text":{"value":"***"}}}
    ]}]},
  {"title":{"text":"B","orient":"top","anchor":"start","frame":"bounds","baseline":"top","offset":-11.5,"dx":-28.7,"fontSize":15,"fontWeight":"bold"},
   "vconcat":[{"title":{"text":"HCC1937","frame":"group","anchor":"middle","offset":1},"width":77,"height":151,
    "layer":[
     {"data":{"name":"bars"},"transform":[{"filter":"datum.p==='B'"}],"mark":{"type":"bar","stroke":"black","strokeWidth":1.3,"width":{"band":1}},
      "encoding":{"x":{"field":"g","type":"nominal","sort":["CTRL","STING-OV"],"scale":{"paddingInner":0.29,"paddingOuter":0.25},"axis":{"title":null,"labelAngle":-45}},
       "y":{"field":"m","type":"quantitative","scale":{"domain":[-0.045,1.646],"nice":false,"zero":false},"axis":{"values":[0,0.5,1,1.5],"format":".1f","title":"IL6  levels (2⁻ΔΔᶜᵀ)","titleFontSize":12}},
       "y2":{"datum":0},
       "color":{"field":"g","type":"nominal","scale":{"domain":["CTRL","STING-OV"],"range":["#807a7b","#b14b50"]},"legend":null}}},
     {"data":{"name":"bars"},"transform":[{"filter":"datum.p==='B'"}],"mark":{"type":"rule","color":"black","strokeWidth":1.2},"encoding":{"x":{"field":"g","type":"nominal"},"y":{"field":"lo","type":"quantitative"},"y2":{"field":"hi"}}},
     {"data":{"name":"bars"},"transform":[{"filter":"datum.p==='B'"}],"mark":{"type":"tick","color":"black","thickness":1.2,"size":10},"encoding":{"x":{"field":"g","type":"nominal"},"y":{"field":"hi","type":"quantitative"}}},
     {"data":{"name":"bars"},"transform":[{"filter":"datum.p==='B'"}],"mark":{"type":"tick","color":"black","thickness":1.2,"size":10},"encoding":{"x":{"field":"g","type":"nominal"},"y":{"field":"lo","type":"quantitative"}}},
     {"data":{"name":"reps"},"transform":[{"filter":"datum.p==='B'"}],"mark":{"type":"circle","color":"black","size":30,"opacity":1},"encoding":{"x":{"field":"g","type":"nominal"},"xOffset":{"field":"r","type":"nominal","scale":{"paddingOuter":1.75}},"y":{"field":"v","type":"quantitative"}}},
     {"data":{"values":[{}]},"mark":{"type":"rule","color":"black","strokeWidth":1.2},"encoding":{"x":{"datum":"CTRL"},"x2":{"datum":"STING-OV"},"y":{"datum":1.5}}},
     {"data":{"values":[{}]},"mark":{"type":"rule","color":"black","strokeWidth":1.2},"encoding":{"x":{"datum":"CTRL"},"y":{"datum":1.5},"y2":{"datum":1.02}}},
     {"data":{"values":[{}]},"mark":{"type":"rule","color":"black","strokeWidth":1.2},"encoding":{"x":{"datum":"STING-OV"},"y":{"datum":1.5},"y2":{"datum":1.39}}},
     {"data":{"values":[{}]},"mark":{"type":"text","fontSize":11,"baseline":"bottom","dx":17,"dy":6,"color":"black"},"encoding":{"x":{"datum":"CTRL"},"y":{"datum":1.5},"text":{"value":"*"}}}
    ]}]},
  {"title":{"text":"C","orient":"top","anchor":"start","frame":"bounds","baseline":"top","offset":-11.5,"dx":-33.7,"fontSize":15,"fontWeight":"bold"},
   "vconcat":[{"title":{"text":"HCC1937","frame":"group","anchor":"middle","offset":1},"width":75,"height":151,
    "layer":[
     {"data":{"name":"bars"},"transform":[{"filter":"datum.p==='C'"}],"mark":{"type":"bar","stroke":"black","strokeWidth":1.3,"width":{"band":1}},
      "encoding":{"x":{"field":"g","type":"nominal","sort":["CTRL","STING-OV"],"scale":{"paddingInner":0.29,"paddingOuter":0.25},"axis":{"title":null,"labelAngle":-45}},
       "y":{"field":"m","type":"quantitative","scale":{"domain":[-0.03,1.296],"nice":false,"zero":false},"axis":{"values":[0,0.3,0.6,0.9,1.2],"format":".1f","title":"IFNB levels (2⁻ΔΔᶜᵀ)","titleFontSize":12}},
       "y2":{"datum":0},
       "color":{"field":"g","type":"nominal","scale":{"domain":["CTRL","STING-OV"],"range":["#807a7b","#b14b50"]},"legend":null}}},
     {"data":{"name":"bars"},"transform":[{"filter":"datum.p==='C'"}],"mark":{"type":"rule","color":"black","strokeWidth":1.2},"encoding":{"x":{"field":"g","type":"nominal"},"y":{"field":"lo","type":"quantitative"},"y2":{"field":"hi"}}},
     {"data":{"name":"bars"},"transform":[{"filter":"datum.p==='C'"}],"mark":{"type":"tick","color":"black","thickness":1.2,"size":10},"encoding":{"x":{"field":"g","type":"nominal"},"y":{"field":"hi","type":"quantitative"}}},
     {"data":{"name":"bars"},"transform":[{"filter":"datum.p==='C'"}],"mark":{"type":"tick","color":"black","thickness":1.2,"size":10},"encoding":{"x":{"field":"g","type":"nominal"},"y":{"field":"lo","type":"quantitative"}}},
     {"data":{"name":"reps"},"transform":[{"filter":"datum.p==='C'"}],"mark":{"type":"circle","color":"black","size":30,"opacity":1},"encoding":{"x":{"field":"g","type":"nominal"},"xOffset":{"field":"r","type":"nominal","scale":{"paddingOuter":1.75}},"y":{"field":"v","type":"quantitative"}}},
     {"data":{"values":[{}]},"mark":{"type":"rule","color":"black","strokeWidth":1.2},"encoding":{"x":{"datum":"CTRL"},"x2":{"datum":"STING-OV"},"y":{"datum":1.23}}},
     {"data":{"values":[{}]},"mark":{"type":"rule","color":"black","strokeWidth":1.2},"encoding":{"x":{"datum":"CTRL"},"y":{"datum":1.23},"y2":{"datum":1.09}}},
     {"data":{"values":[{}]},"mark":{"type":"rule","color":"black","strokeWidth":1.2},"encoding":{"x":{"datum":"STING-OV"},"y":{"datum":1.23},"y2":{"datum":1.15}}},
     {"data":{"values":[{}]},"mark":{"type":"text","fontSize":11,"baseline":"bottom","dx":16.5,"dy":6,"color":"black"},"encoding":{"x":{"datum":"CTRL"},"y":{"datum":1.23},"text":{"value":"*"}}}
    ]}]},
  {"title":{"text":"D","orient":"top","anchor":"start","frame":"bounds","baseline":"top","offset":-11.5,"dx":-25.7,"fontSize":15,"fontWeight":"bold"},
   "vconcat":[{"title":{"text":"HCC1937","frame":"group","anchor":"middle","offset":1},"width":73,"height":151,
    "layer":[
     {"data":{"name":"bars"},"transform":[{"filter":"datum.p==='D'"}],"mark":{"type":"bar","stroke":"black","strokeWidth":1.3,"width":{"band":1}},
      "encoding":{"x":{"field":"g","type":"nominal","sort":["CTRL","STING-OV"],"scale":{"paddingInner":0.29,"paddingOuter":0.25},"axis":{"title":null,"labelAngle":-45}},
       "y":{"field":"m","type":"quantitative","scale":{"domain":[-0.067,2.676],"nice":false,"zero":false},"axis":{"values":[0,0.5,1,1.5,2,2.5],"format":".1f","title":"IL12A levels (2⁻ΔΔᶜᵀ)","titleFontSize":12}},
       "y2":{"datum":0},
       "color":{"field":"g","type":"nominal","scale":{"domain":["CTRL","STING-OV"],"range":["#807a7b","#b14b50"]},"legend":null}}},
     {"data":{"name":"bars"},"transform":[{"filter":"datum.p==='D'"}],"mark":{"type":"rule","color":"black","strokeWidth":1.2},"encoding":{"x":{"field":"g","type":"nominal"},"y":{"field":"lo","type":"quantitative"},"y2":{"field":"hi"}}},
     {"data":{"name":"bars"},"transform":[{"filter":"datum.p==='D'"}],"mark":{"type":"tick","color":"black","thickness":1.2,"size":10},"encoding":{"x":{"field":"g","type":"nominal"},"y":{"field":"hi","type":"quantitative"}}},
     {"data":{"name":"bars"},"transform":[{"filter":"datum.p==='D'"}],"mark":{"type":"tick","color":"black","thickness":1.2,"size":10},"encoding":{"x":{"field":"g","type":"nominal"},"y":{"field":"lo","type":"quantitative"}}},
     {"data":{"name":"reps"},"transform":[{"filter":"datum.p==='D'"}],"mark":{"type":"circle","color":"black","size":30,"opacity":1},"encoding":{"x":{"field":"g","type":"nominal"},"xOffset":{"field":"r","type":"nominal","scale":{"paddingOuter":1.75}},"y":{"field":"v","type":"quantitative"}}},
     {"data":{"values":[{}]},"mark":{"type":"rule","color":"black","strokeWidth":1.2},"encoding":{"x":{"datum":"CTRL"},"x2":{"datum":"STING-OV"},"y":{"datum":2.33}}},
     {"data":{"values":[{}]},"mark":{"type":"rule","color":"black","strokeWidth":1.2},"encoding":{"x":{"datum":"CTRL"},"y":{"datum":2.33},"y2":{"datum":1.17}}},
     {"data":{"values":[{}]},"mark":{"type":"rule","color":"black","strokeWidth":1.2},"encoding":{"x":{"datum":"STING-OV"},"y":{"datum":2.33},"y2":{"datum":2.19}}},
     {"data":{"values":[{}]},"mark":{"type":"text","fontSize":11,"baseline":"bottom","dx":16.5,"dy":6,"color":"black"},"encoding":{"x":{"datum":"CTRL"},"y":{"datum":2.33},"text":{"value":"*"}}}
    ]}]},
  {"title":{"text":"E","orient":"top","anchor":"start","frame":"bounds","baseline":"top","offset":-11.5,"dx":-31.7,"fontSize":15,"fontWeight":"bold"},
   "vconcat":[{"title":{"text":"HCC1937","frame":"group","anchor":"middle","offset":1},"width":81,"height":151,
    "layer":[
     {"data":{"name":"bars"},"transform":[{"filter":"datum.p==='E'"}],"mark":{"type":"bar","stroke":"black","strokeWidth":1.3,"width":{"band":1}},
      "encoding":{"x":{"field":"g","type":"nominal","sort":["CTRL","STING-OV"],"scale":{"paddingInner":0.29,"paddingOuter":0.25},"axis":{"title":null,"labelAngle":-45}},
       "y":{"field":"m","type":"quantitative","scale":{"domain":[-0.04,2.248],"nice":false,"zero":false},"axis":{"values":[0,0.5,1,1.5,2],"format":".1f","title":"IL12B levels (2⁻ΔΔᶜᵀ)","titleFontSize":12}},
       "y2":{"datum":0},
       "color":{"field":"g","type":"nominal","scale":{"domain":["CTRL","STING-OV"],"range":["#807a7b","#b14b50"]},"legend":null}}},
     {"data":{"name":"bars"},"transform":[{"filter":"datum.p==='E'"}],"mark":{"type":"rule","color":"black","strokeWidth":1.2},"encoding":{"x":{"field":"g","type":"nominal"},"y":{"field":"lo","type":"quantitative"},"y2":{"field":"hi"}}},
     {"data":{"name":"bars"},"transform":[{"filter":"datum.p==='E'"}],"mark":{"type":"tick","color":"black","thickness":1.2,"size":10},"encoding":{"x":{"field":"g","type":"nominal"},"y":{"field":"hi","type":"quantitative"}}},
     {"data":{"name":"bars"},"transform":[{"filter":"datum.p==='E'"}],"mark":{"type":"tick","color":"black","thickness":1.2,"size":10},"encoding":{"x":{"field":"g","type":"nominal"},"y":{"field":"lo","type":"quantitative"}}},
     {"data":{"name":"reps"},"transform":[{"filter":"datum.p==='E'"}],"mark":{"type":"circle","color":"black","size":30,"opacity":1},"encoding":{"x":{"field":"g","type":"nominal"},"xOffset":{"field":"r","type":"nominal","scale":{"paddingOuter":1.75}},"y":{"field":"v","type":"quantitative"}}},
     {"data":{"values":[{}]},"mark":{"type":"rule","color":"black","strokeWidth":1.2},"encoding":{"x":{"datum":"CTRL"},"x2":{"datum":"STING-OV"},"y":{"datum":1.74}}},
     {"data":{"values":[{}]},"mark":{"type":"rule","color":"black","strokeWidth":1.2},"encoding":{"x":{"datum":"CTRL"},"y":{"datum":1.74},"y2":{"datum":1.04}}},
     {"data":{"values":[{}]},"mark":{"type":"rule","color":"black","strokeWidth":1.2},"encoding":{"x":{"datum":"STING-OV"},"y":{"datum":1.74},"y2":{"datum":1.6}}},
     {"data":{"values":[{}]},"mark":{"type":"text","fontSize":11,"baseline":"bottom","dx":18,"dy":6,"color":"black"},"encoding":{"x":{"datum":"CTRL"},"y":{"datum":1.74},"text":{"value":"*"}}}
    ]}]}
 ],"spacing":0},
 {"hconcat":[
  {"title":{"text":"F","orient":"top","anchor":"start","frame":"bounds","baseline":"top","offset":-11.5,"dx":-10.8,"fontSize":15,"fontWeight":"bold"},
   "vconcat":[{"title":{"text":"TNBC","frame":"group","anchor":"middle","offset":5},"width":146,"height":140,
    "layer":[
     {"data":{"name":"F"},"mark":{"type":"circle","size":20,"color":"black","opacity":1},"encoding":{"x":{"field":"x","type":"quantitative","scale":{"domain":[5.97,12.33],"nice":false,"zero":false},"axis":{"values":[6,7,8,9,10,11,12],"title":"STING mRNA levels"}},"y":{"field":"y","type":"quantitative","scale":{"domain":[-0.45,12.6],"nice":false,"zero":false},"axis":{"values":[0,2,4,6,8,10,12],"title":"IL6 mRNA levels"}}}},
     {"data":{"name":"bands"},"transform":[{"filter":"datum.p==='F'"}],"mark":{"type":"area","color":"#999999","opacity":0.4,"interpolate":"monotone"},"encoding":{"x":{"field":"x","type":"quantitative"},"y":{"field":"lo","type":"quantitative"},"y2":{"field":"hi"}}},
     {"data":{"name":"lines"},"transform":[{"filter":"datum.p==='F'"}],"mark":{"type":"line","color":"#e52b22","strokeWidth":3},"encoding":{"x":{"field":"x","type":"quantitative"},"y":{"field":"y","type":"quantitative"}}},
     {"data":{"values":[{"t":"R= 0.33, p= 0.00021"}]},"mark":{"type":"text","align":"left","baseline":"middle","fontSize":12,"color":"#1a1a1a"},"encoding":{"x":{"datum":6.24},"y":{"datum":11.9},"text":{"field":"t"}}}
    ]}]},
  {"title":{"text":"G","orient":"top","anchor":"start","frame":"bounds","baseline":"top","offset":-11.5,"dx":-12.9,"fontSize":15,"fontWeight":"bold"},
   "vconcat":[{"title":{"text":"TNBC","frame":"group","anchor":"middle","offset":5},"width":148,"height":140,
    "layer":[
     {"data":{"name":"G"},"mark":{"type":"circle","size":20,"color":"black","opacity":1},"encoding":{"x":{"field":"x","type":"quantitative","scale":{"domain":[5.93,12.36],"nice":false,"zero":false},"axis":{"values":[6,7,8,9,10,11,12],"title":"STING mRNA levels"}},"y":{"field":"y","type":"quantitative","scale":{"domain":[-0.41,6.53],"nice":false,"zero":false},"axis":{"values":[0,2,4,6],"title":"IL12B mRNA levels"}}}},
     {"data":{"name":"bands"},"transform":[{"filter":"datum.p==='G'"}],"mark":{"type":"area","color":"#999999","opacity":0.4,"interpolate":"monotone"},"encoding":{"x":{"field":"x","type":"quantitative"},"y":{"field":"lo","type":"quantitative"},"y2":{"field":"hi"}}},
     {"data":{"name":"lines"},"transform":[{"filter":"datum.p==='G'"}],"mark":{"type":"line","color":"#e52b22","strokeWidth":3},"encoding":{"x":{"field":"x","type":"quantitative"},"y":{"field":"y","type":"quantitative"}}},
     {"data":{"values":[{"t":"R= 0.36, p= 3.8e-05"}]},"mark":{"type":"text","align":"left","baseline":"middle","fontSize":12,"color":"#1a1a1a"},"encoding":{"x":{"datum":6.4},"y":{"datum":6.2},"text":{"field":"t"}}}
    ]}]},
  {"title":{"text":"H","orient":"top","anchor":"start","frame":"bounds","baseline":"top","offset":-11.5,"dx":-21.8,"fontSize":15,"fontWeight":"bold"},
   "vconcat":[{"title":{"text":"TNBC","frame":"group","anchor":"middle","offset":5},"width":144,"height":140,
    "layer":[
     {"data":{"name":"H"},"mark":{"type":"circle","size":20,"color":"black","opacity":1},"encoding":{"x":{"field":"x","type":"quantitative","scale":{"domain":[5.99,12.35],"nice":false,"zero":false},"axis":{"values":[6,7,8,9,10,11,12],"title":"STING mRNA levels"}},"y":{"field":"y","type":"quantitative","scale":{"domain":[-0.36,10.46],"nice":false,"zero":false},"axis":{"values":[0,2,4,6,8,10],"title":"IFNG mRNA levels"}}}},
     {"data":{"name":"bands"},"transform":[{"filter":"datum.p==='H'"}],"mark":{"type":"area","color":"#999999","opacity":0.4,"interpolate":"monotone"},"encoding":{"x":{"field":"x","type":"quantitative"},"y":{"field":"lo","type":"quantitative"},"y2":{"field":"hi"}}},
     {"data":{"name":"lines"},"transform":[{"filter":"datum.p==='H'"}],"mark":{"type":"line","color":"#e52b22","strokeWidth":3},"encoding":{"x":{"field":"x","type":"quantitative"},"y":{"field":"y","type":"quantitative"}}},
     {"data":{"values":[{"t":"R= 0.38, p= 1.2e-05"}]},"mark":{"type":"text","align":"left","baseline":"middle","fontSize":12,"color":"#1a1a1a"},"encoding":{"x":{"datum":6.4},"y":{"datum":9.95},"text":{"field":"t"}}}
    ]}]},
  {"title":{"text":"I","orient":"top","anchor":"start","frame":"bounds","baseline":"top","offset":-11.5,"dx":-18.8,"fontSize":15,"fontWeight":"bold"},
   "vconcat":[{"title":{"text":"TNBC","frame":"group","anchor":"middle","offset":5},"width":145,"height":140,
    "layer":[
     {"data":{"name":"I"},"mark":{"type":"circle","size":20,"color":"black","opacity":1},"encoding":{"x":{"field":"x","type":"quantitative","scale":{"domain":[6.0,12.44],"nice":false,"zero":false},"axis":{"values":[6,7,8,9,10,11,12],"title":"STING mRNA levels"}},"y":{"field":"y","type":"quantitative","scale":{"domain":[4.63,15.52],"nice":false,"zero":false},"axis":{"values":[5,7,9,11,13,15],"title":"IFNG response score"}}}},
     {"data":{"name":"bands"},"transform":[{"filter":"datum.p==='I'"}],"mark":{"type":"area","color":"#999999","opacity":0.4,"interpolate":"monotone"},"encoding":{"x":{"field":"x","type":"quantitative"},"y":{"field":"lo","type":"quantitative"},"y2":{"field":"hi"}}},
     {"data":{"name":"lines"},"transform":[{"filter":"datum.p==='I'"}],"mark":{"type":"line","color":"#e52b22","strokeWidth":3},"encoding":{"x":{"field":"x","type":"quantitative"},"y":{"field":"y","type":"quantitative"}}},
     {"data":{"values":[{"t":"R= 0.46, p= 1e-07"}]},"mark":{"type":"text","align":"left","baseline":"middle","fontSize":12,"color":"#1a1a1a"},"encoding":{"x":{"datum":6.37},"y":{"datum":15.0},"text":{"field":"t"}}}
    ]}]}
 ],"spacing":0},
 {"hconcat":[
  {"title":{"text":"J","orient":"top","anchor":"start","frame":"bounds","baseline":"top","offset":-14.5,"dx":-10.8,"fontSize":15,"fontWeight":"bold"},
   "vconcat":[{"title":{"text":"TNBC","frame":"group","anchor":"middle","offset":11.5},"width":146,"height":142,
    "layer":[
     {"data":{"name":"J"},"mark":{"type":"circle","size":20,"color":"black","opacity":1},"encoding":{"x":{"field":"x","type":"quantitative","scale":{"domain":[-0.42,1.2],"nice":false,"zero":false},"axis":{"values":[0,1],"format":"d","title":"miR-181a levels","titlePadding":2}},"y":{"field":"y","type":"quantitative","scale":{"domain":[-0.56,12.65],"nice":false,"zero":false},"axis":{"values":[0,2,4,6,8,10,12],"title":"IL6 mRNA levels"}}}},
     {"data":{"name":"bands"},"transform":[{"filter":"datum.p==='J'"}],"mark":{"type":"area","color":"#999999","opacity":0.4,"interpolate":"monotone"},"encoding":{"x":{"field":"x","type":"quantitative"},"y":{"field":"lo","type":"quantitative"},"y2":{"field":"hi"}}},
     {"data":{"name":"lines"},"transform":[{"filter":"datum.p==='J'"}],"mark":{"type":"line","color":"#e52b22","strokeWidth":3},"encoding":{"x":{"field":"x","type":"quantitative"},"y":{"field":"y","type":"quantitative"}}},
     {"data":{"values":[{"t":"R= -0.24, p= 0.0092"}]},"mark":{"type":"text","align":"left","baseline":"middle","fontSize":12,"color":"#1a1a1a"},"encoding":{"x":{"datum":-0.35},"y":{"datum":11.85},"text":{"field":"t"}}}
    ]}]},
  {"title":{"text":"K","orient":"top","anchor":"start","frame":"bounds","baseline":"top","offset":-14.5,"dx":-11.3,"fontSize":15,"fontWeight":"bold"},
   "vconcat":[{"title":{"text":"TNBC","frame":"group","anchor":"middle","offset":11.5},"width":148,"height":142,
    "layer":[
     {"data":{"name":"K"},"mark":{"type":"circle","size":20,"color":"black","opacity":1},"encoding":{"x":{"field":"x","type":"quantitative","scale":{"domain":[-0.4,1.16],"nice":false,"zero":false},"axis":{"values":[0,1],"format":"d","title":"miR-181a levels","titlePadding":2}},"y":{"field":"y","type":"quantitative","scale":{"domain":[-0.5,6.95],"nice":false,"zero":false},"axis":{"values":[0,2,4,6],"title":"IL12B mRNA levels"}}}},
     {"data":{"name":"bands"},"transform":[{"filter":"datum.p==='K'"}],"mark":{"type":"area","color":"#999999","opacity":0.4,"interpolate":"monotone"},"encoding":{"x":{"field":"x","type":"quantitative"},"y":{"field":"lo","type":"quantitative"},"y2":{"field":"hi"}}},
     {"data":{"name":"lines"},"transform":[{"filter":"datum.p==='K'"}],"mark":{"type":"line","color":"#e52b22","strokeWidth":3},"encoding":{"x":{"field":"x","type":"quantitative"},"y":{"field":"y","type":"quantitative"}}},
     {"data":{"values":[{"t":"R= -0.17, p= 0.06"}]},"mark":{"type":"text","align":"left","baseline":"middle","fontSize":12,"color":"#1a1a1a"},"encoding":{"x":{"datum":-0.28},"y":{"datum":6.5},"text":{"field":"t"}}}
    ]}]},
  {"title":{"text":"L","orient":"top","anchor":"start","frame":"bounds","baseline":"top","offset":-14.5,"dx":-23.0,"fontSize":15,"fontWeight":"bold"},
   "vconcat":[{"title":{"text":"TNBC","frame":"group","anchor":"middle","offset":11.5},"width":145,"height":142,
    "layer":[
     {"data":{"name":"L"},"mark":{"type":"circle","size":20,"color":"black","opacity":1},"encoding":{"x":{"field":"x","type":"quantitative","scale":{"domain":[-0.41,1.2],"nice":false,"zero":false},"axis":{"values":[0,1],"format":"d","title":"miR-181a levels","titlePadding":2}},"y":{"field":"y","type":"quantitative","scale":{"domain":[-0.57,10.55],"nice":false,"zero":false},"axis":{"values":[0,2,4,6,8,10],"title":"IFNG mRNA levels"}}}},
     {"data":{"name":"bands"},"transform":[{"filter":"datum.p==='L'"}],"mark":{"type":"area","color":"#999999","opacity":0.4,"interpolate":"monotone"},"encoding":{"x":{"field":"x","type":"quantitative"},"y":{"field":"lo","type":"quantitative"},"y2":{"field":"hi"}}},
     {"data":{"name":"lines"},"transform":[{"filter":"datum.p==='L'"}],"mark":{"type":"line","color":"#e52b22","strokeWidth":3},"encoding":{"x":{"field":"x","type":"quantitative"},"y":{"field":"y","type":"quantitative"}}},
     {"data":{"values":[{"t":"R= -0.26, p= 0.0035"}]},"mark":{"type":"text","align":"left","baseline":"middle","fontSize":12,"color":"#1a1a1a"},"encoding":{"x":{"datum":-0.32},"y":{"datum":9.87},"text":{"field":"t"}}}
    ]}]},
  {"title":{"text":"M","orient":"top","anchor":"start","frame":"bounds","baseline":"top","offset":-14.5,"dx":-16.8,"fontSize":15,"fontWeight":"bold"},
   "vconcat":[{"title":{"text":"TNBC","frame":"group","anchor":"middle","offset":11.5},"width":145,"height":142,
    "layer":[
     {"data":{"name":"M"},"mark":{"type":"circle","size":20,"color":"black","opacity":1},"encoding":{"x":{"field":"x","type":"quantitative","scale":{"domain":[-0.42,1.2],"nice":false,"zero":false},"axis":{"values":[0,1],"format":"d","title":"miR-181a levels","titlePadding":2}},"y":{"field":"y","type":"quantitative","scale":{"domain":[5.5,14.95],"nice":false,"zero":false},"axis":{"values":[6,8,10,12,14],"title":"IFNG response score"}}}},
     {"data":{"name":"bands"},"transform":[{"filter":"datum.p==='M'"}],"mark":{"type":"area","color":"#999999","opacity":0.4,"interpolate":"monotone"},"encoding":{"x":{"field":"x","type":"quantitative"},"y":{"field":"lo","type":"quantitative"},"y2":{"field":"hi"}}},
     {"data":{"name":"lines"},"transform":[{"filter":"datum.p==='M'"}],"mark":{"type":"line","color":"#e52b22","strokeWidth":3},"encoding":{"x":{"field":"x","type":"quantitative"},"y":{"field":"y","type":"quantitative"}}},
     {"data":{"values":[{"t":"R= -0.31, p= 0.00065"}]},"mark":{"type":"text","align":"left","baseline":"middle","fontSize":12,"color":"#1a1a1a"},"encoding":{"x":{"datum":-0.33},"y":{"datum":14.38},"text":{"field":"t"}}}
    ]}]}
 ],"spacing":0},
 {"hconcat":[
  {"title":{"text":"N","orient":"top","anchor":"start","frame":"bounds","baseline":"top","offset":-2,"dx":-8.8,"fontSize":15,"fontWeight":"bold"},
   "vconcat":[{"title":{"text":"GSE173839","frame":"group","anchor":"middle","offset":12},"width":187,"height":166,
    "layer":[
     {"data":{"name":"N"},"mark":{"type":"circle","size":20,"color":"black","opacity":1},"encoding":{"x":{"field":"x","type":"quantitative","scale":{"domain":[6.76,11.2],"nice":false,"zero":false},"axis":{"values":[7,8,9,10,11],"title":"STING mRNA levels","titlePadding":3.5}},"y":{"field":"y","type":"quantitative","scale":{"domain":[6.78,12.2],"nice":false,"zero":false},"axis":{"values":[7,8,9,10,11,12],"title":"IFNG response score"}}}},
     {"data":{"name":"lines"},"transform":[{"filter":"datum.p==='N'"}],"mark":{"type":"line","color":"#e52b22","strokeWidth":3},"encoding":{"x":{"field":"x","type":"quantitative"},"y":{"field":"y","type":"quantitative"}}},
     {"data":{"values":[{"t":"R= 0.3, p= 0.0022"}]},"mark":{"type":"text","align":"left","baseline":"middle","fontSize":12,"color":"#1a1a1a"},"encoding":{"x":{"datum":7.04},"y":{"datum":12.0},"text":{"field":"t"}}}
    ]}]},
  {"title":{"text":"O","orient":"top","anchor":"start","frame":"bounds","baseline":"top","offset":-2,"dx":-29.8,"fontSize":15,"fontWeight":"bold"},
   "vconcat":[{"title":{"text":"GSE173839 (DOP)","frame":"group","anchor":"middle","offset":2},"width":103,"height":167,
    "view":{"stroke":"black","strokeWidth":1.3},
    "resolve":{"scale":{"xOffset":"independent"}},
    "layer":[
     {"data":{"name":"obox"},"mark":{"type":"rule","color":"black","strokeWidth":1.2,"strokeDash":[4,3]},"encoding":{"x":{"field":"g","type":"nominal","scale":{"domain":["non-CR","CR"],"paddingInner":0.19,"paddingOuter":0.19},"axis":{"title":null,"labelAngle":-45,"domain":false}},"y":{"field":"hi","type":"quantitative","scale":{"domain":[7.67,12.38],"nice":false,"zero":false},"axis":{"values":[8,9,10,11,12],"title":"IFNG response score","domain":false}},"y2":{"field":"q3"}}},
     {"data":{"name":"obox"},"mark":{"type":"rule","color":"black","strokeWidth":1.2,"strokeDash":[4,3]},"encoding":{"x":{"field":"g","type":"nominal"},"y":{"field":"q1","type":"quantitative"},"y2":{"field":"lo"}}},
     {"data":{"name":"obox"},"mark":{"type":"tick","color":"black","thickness":1.3,"size":13,"opacity":1},"encoding":{"x":{"field":"g","type":"nominal"},"y":{"field":"hi","type":"quantitative"}}},
     {"data":{"name":"obox"},"mark":{"type":"tick","color":"black","thickness":1.3,"size":13,"opacity":1},"encoding":{"x":{"field":"g","type":"nominal"},"y":{"field":"lo","type":"quantitative"}}},
     {"data":{"name":"obox"},"mark":{"type":"bar","fill":"white","stroke":"black","strokeWidth":1.3,"opacity":1,"size":38},"encoding":{"x":{"field":"g","type":"nominal"},"y":{"field":"q1","type":"quantitative"},"y2":{"field":"q3"}}},
     {"data":{"name":"odots"},"transform":[{"window":[{"op":"row_number","as":"rn"}],"groupby":["g","v"]}],"mark":{"type":"circle","size":20,"opacity":1,"fillOpacity":1,"strokeWidth":0},"encoding":{"x":{"field":"g","type":"nominal"},"xOffset":{"field":"rn","type":"nominal","scale":{"domain":[4,2,1,3,5]}},"y":{"field":"v","type":"quantitative"},"fill":{"field":"g","type":"nominal","scale":{"domain":["non-CR","CR"],"range":["#000000","#e0292f"]},"legend":null}}},
     {"data":{"name":"obox"},"mark":{"type":"bar","fill":null,"stroke":"black","strokeWidth":3.5,"opacity":1,"size":38},"encoding":{"x":{"field":"g","type":"nominal"},"y":{"field":"med","type":"quantitative"},"y2":{"field":"med"}}},
     {"data":{"values":[{}]},"mark":{"type":"rule","color":"black","strokeWidth":1.2},"encoding":{"x":{"datum":"non-CR"},"x2":{"datum":"CR"},"y":{"datum":12.465}}},
     {"data":{"values":[{}]},"mark":{"type":"rule","color":"black","strokeWidth":1.2},"encoding":{"x":{"datum":"non-CR"},"y":{"datum":12.465},"y2":{"datum":12.3}}},
     {"data":{"values":[{}]},"mark":{"type":"rule","color":"black","strokeWidth":1.2},"encoding":{"x":{"datum":"CR"},"y":{"datum":12.465},"y2":{"datum":12.3}}},
     {"data":{"values":[{}]},"mark":{"type":"text","fontSize":11,"baseline":"bottom","dx":23.5,"dy":6,"color":"black"},"encoding":{"x":{"datum":"non-CR"},"y":{"datum":12.465},"text":{"value":"***"}}}
    ]}]}
 ],"spacing":0}
],
"spacing":7
}
